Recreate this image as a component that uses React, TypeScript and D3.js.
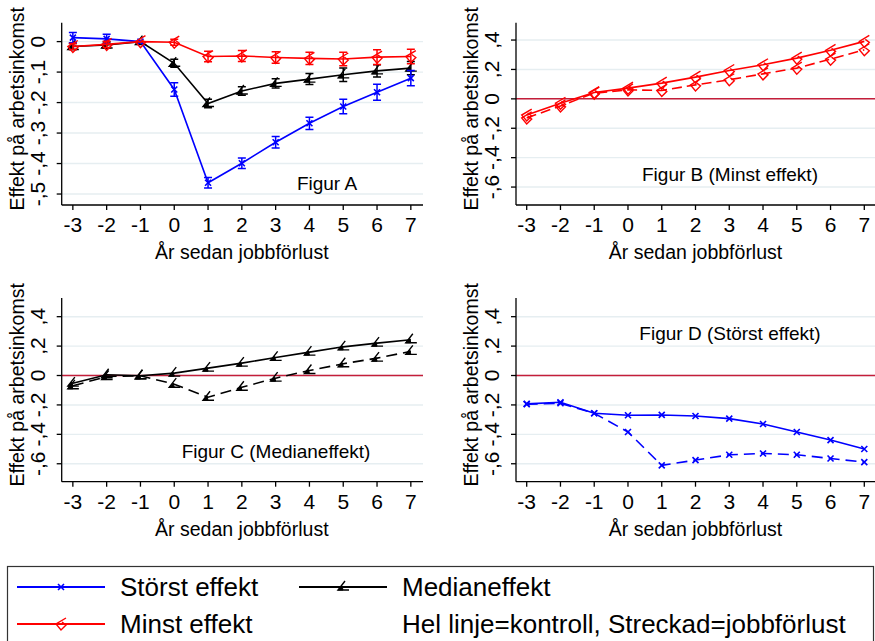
import { scaleLinear, line } from "d3";
import { Fragment } from "react";

const years = [-3, -2, -1, 0, 1, 2, 3, 4, 5, 6, 7];

// Figur A: estimates with confidence intervals
const storstA = [0.013, 0.009, 0, -0.157, -0.463, -0.399, -0.33, -0.268, -0.213, -0.166, -0.12];
const storstAerr = [0.017, 0.015, 0, 0.022, 0.017, 0.017, 0.019, 0.02, 0.024, 0.026, 0.025];
const medianA = [-0.016, -0.011, 0, -0.071, -0.203, -0.162, -0.137, -0.123, -0.109, -0.096, -0.087];
const medianAerr = [0.01, 0.01, 0, 0.013, 0.014, 0.014, 0.015, 0.018, 0.022, 0.02, 0.022];
const minstA = [-0.016, -0.009, 0, -0.002, -0.049, -0.047, -0.052, -0.055, -0.057, -0.051, -0.049];
const minstAerr = [0.01, 0.01, 0, 0.01, 0.017, 0.018, 0.019, 0.02, 0.022, 0.024, 0.024];

// Figur B-D: kontroll (solid) and jobbförlust (dashed)
const minstKontroll = [-0.11, -0.03, 0.043, 0.073, 0.107, 0.148, 0.193, 0.232, 0.277, 0.33, 0.391];
const minstJobb = [-0.13, -0.048, 0.039, 0.061, 0.057, 0.095, 0.13, 0.17, 0.209, 0.27, 0.334];
const medianKontroll = [-0.052, 0.005, -0.002, 0.016, 0.05, 0.084, 0.123, 0.159, 0.195, 0.22, 0.243];
const medianJobb = [-0.07, -0.007, -0.002, -0.059, -0.148, -0.08, -0.018, 0.034, 0.08, 0.118, 0.164];
const storstKontroll = [-0.193, -0.182, -0.257, -0.27, -0.268, -0.275, -0.293, -0.33, -0.384, -0.439, -0.5];
const storstJobb = [-0.195, -0.189, -0.257, -0.384, -0.611, -0.575, -0.539, -0.53, -0.539, -0.564, -0.589];

const yTicksA = [-0.5, -0.4, -0.3, -0.2, -0.1, 0];
const yTicksBCD = [-0.6, -0.4, -0.2, 0, 0.2, 0.4];

const FONT = "'Liberation Sans', Arial, sans-serif";
const BLUE = "#0000ff";
const RED = "#ff0000";
const BLACK = "#000000";
const GRID = "#e6eef1";
const ZERO = "#c41e3a";

const fmt = (v: number) => {
  if (Math.abs(v) < 1e-9) return "0";
  const s = Math.abs(v).toFixed(1).replace("0.", ",");
  return (v < 0 ? "-" : "") + s;
};

type Kind = "x" | "arrowF" | "arrowO";

const Marker = ({ kind, x, y, color }: { kind: Kind; x: number; y: number; color: string }) => {
  if (kind === "x")
    return (
      <path d={`M${x - 3},${y - 3}L${x + 3},${y + 3}M${x - 3},${y + 3}L${x + 3},${y - 3}`} stroke={color} strokeWidth={1.6} />
    );
  if (kind === "arrowF")
    return (
      <g transform={`translate(${x},${y})`}>
        <path d="M2,-6L-5,3L6,3" fill="none" stroke={color} strokeWidth={1.4} />
        <path d="M-5,3L-1,-1L0,3Z" fill={color} stroke={color} strokeWidth={1} />
      </g>
    );
  return (
    <g transform={`translate(${x},${y})`}>
      <path d="M5,-6L-5,0L0,6L5,1L1,-2" fill="none" stroke={color} strokeWidth={1.4} />
    </g>
  );
};

interface Series {
  values: number[];
  err?: number[];
  color: string;
  kind: Kind;
  dash?: string;
}

interface PanelProps {
  left: number;
  top: number;
  right: number;
  bottom: number;
  xDomain: [number, number];
  yDomain: [number, number];
  yTicks: number[];
  series: Series[];
  zeroLine: boolean;
  label: string;
  labelX: number;
  labelY: number;
}

const Panel = ({ left, top, right, bottom, xDomain, yDomain, yTicks, series, zeroLine, label, labelX, labelY }: PanelProps) => {
  const x = scaleLinear().domain(xDomain).range([left, right]);
  const y = scaleLinear().domain(yDomain).range([bottom, top]);
  const path = line<number>()
    .x((_, i) => x(years[i]))
    .y((d) => y(d));

  return (
    <g fontFamily={FONT}>
      {yTicks.map((t) => (
        <line key={`g${t}`} x1={left} x2={right} y1={y(t)} y2={y(t)} stroke={GRID} strokeWidth={1.4} />
      ))}
      {zeroLine && <line x1={left} x2={right} y1={y(0)} y2={y(0)} stroke={ZERO} strokeWidth={1.5} />}
      {series.map((s, si) => (
        <g key={si}>
          <path d={path(s.values) ?? ""} fill="none" stroke={s.color} strokeWidth={1.6} strokeDasharray={s.dash} />
          {s.err &&
            s.values.map((v, i) =>
              s.err![i] > 0 ? (
                <path
                  key={`e${i}`}
                  d={`M${x(years[i]) - 4},${y(v + s.err![i])}H${x(years[i]) + 4}M${x(years[i])},${y(v + s.err![i])}V${y(v - s.err![i])}M${x(years[i]) - 4},${y(v - s.err![i])}H${x(years[i]) + 4}`}
                  stroke={s.color}
                  strokeWidth={1.5}
                  fill="none"
                />
              ) : null
            )}
          {s.values.map((v, i) => (
            <Marker key={`m${i}`} kind={s.kind} x={x(years[i])} y={y(v)} color={s.color} />
          ))}
        </g>
      ))}
      <line x1={left} x2={left} y1={top} y2={bottom} stroke={BLACK} strokeWidth={1.3} />
      <line x1={left} x2={right} y1={bottom} y2={bottom} stroke={BLACK} strokeWidth={1.3} />
      {yTicks.map((t) => (
        <Fragment key={`t${t}`}>
          <line x1={left - 5} x2={left} y1={y(t)} y2={y(t)} stroke={BLACK} strokeWidth={1.3} />
          <text
            transform={`translate(${left - 17},${y(t)}) rotate(-90)`}
            textAnchor="middle"
            fontSize={21}
            fill={BLACK}
          >
            {fmt(t)}
          </text>
        </Fragment>
      ))}
      {years.map((t) => (
        <Fragment key={`x${t}`}>
          <line x1={x(t)} x2={x(t)} y1={bottom} y2={bottom + 5} stroke={BLACK} strokeWidth={1.3} />
          <text x={x(t)} y={bottom + 27} textAnchor="middle" fontSize={21} fill={BLACK}>
            {t}
          </text>
        </Fragment>
      ))}
      <text x={x(2)} y={bottom + 54} textAnchor="middle" fontSize={19.5} fill={BLACK}>
        År sedan jobbförlust
      </text>
      <text
        transform={`translate(${left - 38},${(top + bottom) / 2 - 5}) rotate(-90)`}
        textAnchor="middle"
        fontSize={19.5}
        fill={BLACK}
      >
        Effekt på arbetsinkomst
      </text>
      <text x={labelX} y={labelY} textAnchor="middle" fontSize={19} fill={BLACK}>
        {label}
      </text>
    </g>
  );
};

const Legend = () => {
  const row1 = 587;
  const row2 = 624;
  const items = [
    { x1: 17, x2: 105, y: row1, color: BLUE, kind: "x" as Kind, text: "Störst effekt", tx: 120 },
    { x1: 299, x2: 387, y: row1, color: BLACK, kind: "arrowF" as Kind, text: "Medianeffekt", tx: 402 },
    { x1: 17, x2: 105, y: row2, color: RED, kind: "arrowO" as Kind, text: "Minst effekt", tx: 120 },
  ];
  return (
    <g fontFamily={FONT}>
      <rect x={7.5} y={566.5} width={866} height={90} fill="white" stroke="#333" strokeWidth={1.2} />
      {items.map((it) => (
        <Fragment key={it.text}>
          <line x1={it.x1} x2={it.x2} y1={it.y} y2={it.y} stroke={it.color} strokeWidth={1.8} />
          <Marker kind={it.kind} x={(it.x1 + it.x2) / 2} y={it.y} color={it.color} />
          <text x={it.tx} y={it.y + 9} fontSize={26} fill={BLACK}>
            {it.text}
          </text>
        </Fragment>
      ))}
      <text x={402} y={row2 + 9} fontSize={26} fill={BLACK}>
        Hel linje=kontroll, Streckad=jobbförlust
      </text>
    </g>
  );
};

export default function App() {
  return (
    <svg
      width={875}
      height={641}
      viewBox="0 0 875 641"
      style={{ position: "absolute", left: 0, top: 0, background: "white" }}
    >
      <rect width={875} height={641} fill="white" />
      <Panel
        left={61.7}
        top={22.7}
        right={423}
        bottom={205}
        xDomain={[-3.33, 7.36]}
        yDomain={[-0.536, 0.062]}
        yTicks={yTicksA}
        zeroLine={false}
        series={[
          { values: medianA, err: medianAerr, color: BLACK, kind: "arrowF" },
          { values: storstA, err: storstAerr, color: BLUE, kind: "x" },
          { values: minstA, err: minstAerr, color: RED, kind: "arrowO" },
        ]}
        label="Figur A"
        labelX={327}
        labelY={190}
      />
      <Panel
        left={516}
        top={22.7}
        right={875}
        bottom={205}
        xDomain={[-3.317, 7.317]}
        yDomain={[-0.722, 0.518]}
        yTicks={yTicksBCD}
        zeroLine={true}
        series={[
          { values: minstKontroll, color: RED, kind: "arrowO" },
          { values: minstJobb, color: RED, kind: "arrowO", dash: "10,5" },
        ]}
        label="Figur B (Minst effekt)"
        labelX={730}
        labelY={181}
      />
      <Panel
        left={61.7}
        top={298}
        right={423}
        bottom={481.7}
        xDomain={[-3.33, 7.36]}
        yDomain={[-0.722, 0.527]}
        yTicks={yTicksBCD}
        zeroLine={true}
        series={[
          { values: medianKontroll, color: BLACK, kind: "arrowF" },
          { values: medianJobb, color: BLACK, kind: "arrowF", dash: "11,6" },
        ]}
        label="Figur C (Medianeffekt)"
        labelX={276}
        labelY={458}
      />
      <Panel
        left={516}
        top={298}
        right={875}
        bottom={481.7}
        xDomain={[-3.317, 7.317]}
        yDomain={[-0.722, 0.527]}
        yTicks={yTicksBCD}
        zeroLine={true}
        series={[
          { values: storstKontroll, color: BLUE, kind: "x" },
          { values: storstJobb, color: BLUE, kind: "x", dash: "11,6" },
        ]}
        label="Figur D (Störst effekt)"
        labelX={730}
        labelY={340}
      />
      <Legend />
    </svg>
  );
}
